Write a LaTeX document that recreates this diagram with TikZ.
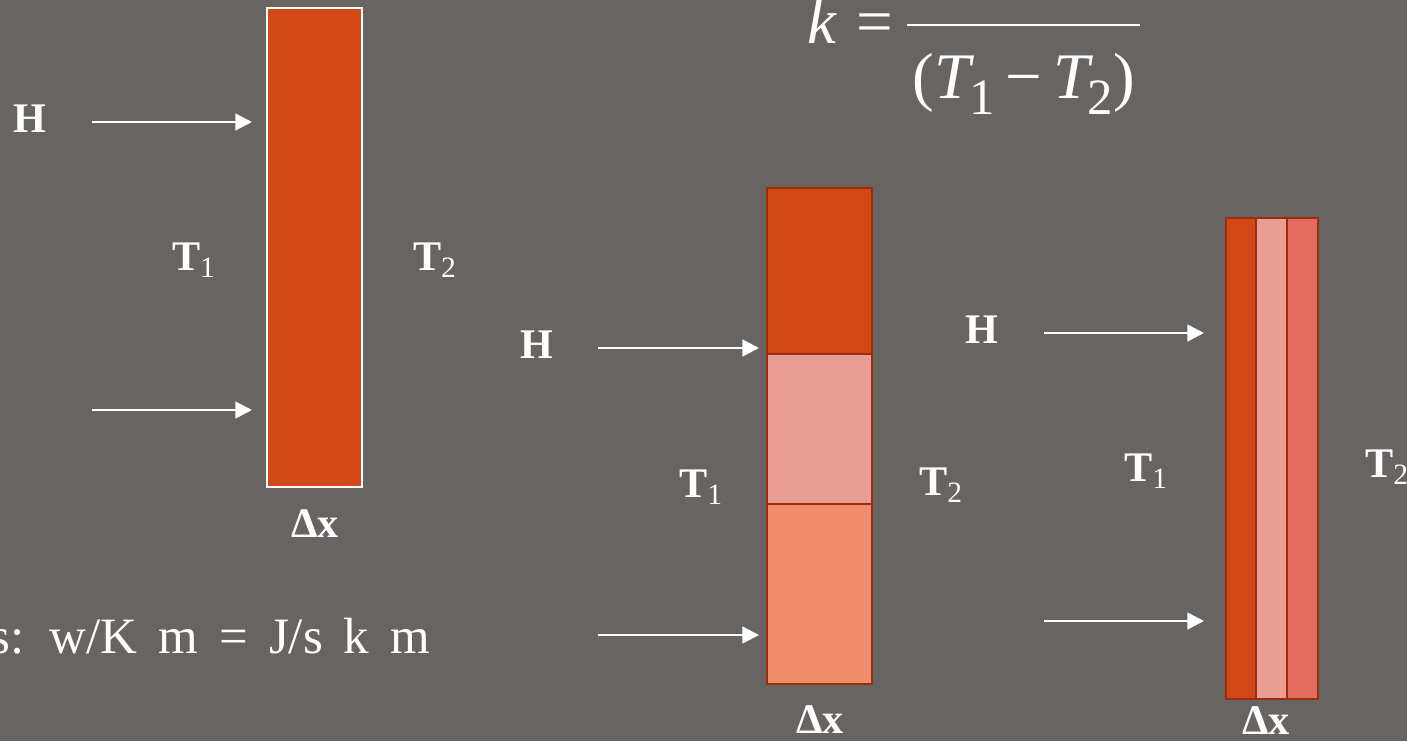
\documentclass[tikz,border=0pt]{standalone}
\usepackage{fontspec}
\setmainfont{Liberation Serif}
\newfontfamily\unitsfont[WordSpace=1.65]{Liberation Serif}
\usepackage{tikz}
\usetikzlibrary{arrows.meta, positioning}
\definecolor{slidegray}{RGB}{104,100,98}
\definecolor{brickred}{RGB}{211,72,23}
\definecolor{rosepink}{RGB}{234,157,148}
\definecolor{peach}{RGB}{240,141,108}
\definecolor{salmon}{RGB}{226,108,94}
\definecolor{rimbrown}{RGB}{154,46,14}
\newcommand{\lowsub}[1]{\raisebox{-9.5pt}{\fontsize{29}{29}\selectfont\upshape #1}}

\begin{document}
\begin{tikzpicture}[x=0.02cm, y=-0.02cm,
    every node/.style={text=white, inner sep=0pt, outer sep=0pt},
    lbl/.style={font=\fontsize{24}{28}\selectfont\bfseries},
    eqn/.style={font=\fontsize{37}{40}\selectfont, anchor=base},
    heat/.style={-{Triangle[length=9.5pt, width=9.5pt]}, white, line width=1.4pt},
    slab/.style={draw=rimbrown, line width=1.1pt, fill=#1},
]
\fill[slidegray] (0,0) rectangle (1407,741);
\useasboundingbox (0,0) rectangle (1407,741);

% single wall
\node[draw=white, line width=0.8pt, fill=brickred, minimum width=1.9cm, minimum height=9.58cm, anchor=north west] (wall) at (267,8) {};
\node[lbl] (h1) at (30,119) {H};
\node[lbl] (t1a) at (194,260) {T\textsubscript{\normalfont 1}};
\node[lbl] (t2a) at (435,260) {T\textsubscript{\normalfont 2}};
\node[lbl] (dxa) at (315,524) {Δx};
\coordinate (ina) at (92,122);
\coordinate (inb) at (92,410);
\draw[heat, shorten >=0.3cm] (ina) -- (ina -| wall.west);
\draw[heat, shorten >=0.3cm] (inb) -- (inb -| wall.west);

\node[font=\fontsize{29}{34}\unitsfont, anchor=base east] (units) at (430,653) {s: w/K m = J/s k m};

% formula
\node[eqn] (kvar) at (822,43) {\itshape k};
\node[eqn] (eqsign) at (875,43) {=};
\node[eqn] (den) at (1024,98) {(\textit{T}\kern-3pt\lowsub{1}\,−\,\textit{T}\kern-3pt\lowsub{2})};
\coordinate (barl) at (907,25);
\coordinate (barr) at (1140,25);
\draw[white, line width=1.7pt] (barl) -- (barr);

% stacked layers
\node[slab=brickred, minimum width=2.1cm, minimum height=3.32cm, anchor=north west] (topl) at (767,188) {};
\node[slab=rosepink, minimum width=2.1cm, minimum height=3.0cm, below=0pt of topl] (midl) {};
\node[slab=peach, minimum width=2.1cm, minimum height=3.6cm, below=0pt of midl] (botl) {};
\node[lbl] (h2) at (537,345) {H};
\node[lbl] (t1b) at (701,487) {T\textsubscript{\normalfont 1}};
\node[lbl] (t2b) at (941,485) {T\textsubscript{\normalfont 2}};
\node[lbl] (dxb) at (820,720) {Δx};
\coordinate (inc) at (598,348);
\coordinate (ind) at (598,635);
\draw[heat, shorten >=0.16cm] (inc) -- (inc -| topl.west);
\draw[heat, shorten >=0.16cm] (ind) -- (ind -| botl.west);

% side by side layers
\node[slab=brickred, minimum width=0.6cm, minimum height=9.62cm, anchor=north west] (lefts) at (1226,218) {};
\node[slab=rosepink, minimum width=0.62cm, minimum height=9.62cm, right=0pt of lefts] (mids) {};
\node[slab=salmon, minimum width=0.62cm, minimum height=9.62cm, right=0pt of mids] (rights) {};
\node[lbl] (h3) at (982,330) {H};
\node[lbl] (t1c) at (1146,471) {T\textsubscript{\normalfont 1}};
\node[lbl] (t2c) at (1387,467) {T\textsubscript{\normalfont 2}};
\node[lbl] (dxc) at (1266,721) {Δx};
\coordinate (ine) at (1044,333);
\coordinate (inf) at (1044,621);
\draw[heat, shorten >=0.44cm] (ine) -- (ine -| lefts.west);
\draw[heat, shorten >=0.44cm] (inf) -- (inf -| lefts.west);

\end{tikzpicture}
\end{document}
